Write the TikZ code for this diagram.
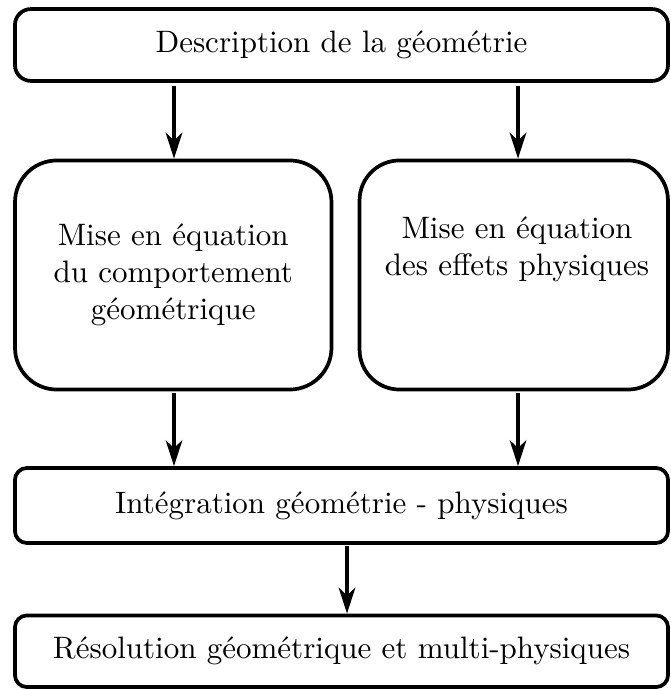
\documentclass[tikz,border=0pt]{standalone}
\usetikzlibrary{arrows.meta}
\begin{document}
\begin{tikzpicture}[x=0.3226pt,y=-0.3226pt,
  txt/.style={font=\fontsize{10}{12}\selectfont, align=center},
  box/.style={draw, line width=1.2pt, inner sep=0pt, txt},
  arr/.style={line width=1.1pt, -{Stealth[length=8.4pt,width=5.4pt,inset=2.6pt]}}]
\useasboundingbox (0,0) rectangle (670,690);
\node[box, rounded corners=5.16pt, minimum width=210.7pt, minimum height=23.2pt] (desc) at (341.5,45) {Description de la géométrie};
\node[box, rounded corners=13.5pt, minimum width=102.1pt, minimum height=73.9pt] (left) at (173.25,275) {Mise en équation\\du comportement\\géométrique};
\node[box, rounded corners=12.9pt, minimum width=99.5pt, minimum height=73.9pt] (right) at (513.75,275) {};
\node[txt] (righttxt) at (517,249) {Mise en équation\\des effets physiques};
\node[box, rounded corners=3.87pt, minimum width=210.7pt, minimum height=24.2pt] (integ) at (341.5,505.5) {Intégration géométrie - physiques};
\node[box, rounded corners=3.87pt, minimum width=210.7pt, minimum height=23.1pt] (resol) at (341.5,651.25) {Résolution géométrique et multi-physiques};
\coordinate (xl) at (174,0);
\coordinate (xr) at (518,0);
\coordinate (xc) at (347,0);
\draw[arr, shorten <=0.9pt] (desc.south -| xl) -- (left.north -| xl);
\draw[arr, shorten <=0.9pt] (desc.south -| xr) -- (right.north -| xr);
\draw[arr, shorten <=0.5pt] (left.south -| xl) -- (integ.north -| xl);
\draw[arr, shorten <=0.5pt] (right.south -| xr) -- (integ.north -| xr);
\draw[arr, shorten <=0.5pt] (integ.south -| xc) -- (resol.north -| xc);
\end{tikzpicture}
\end{document}
